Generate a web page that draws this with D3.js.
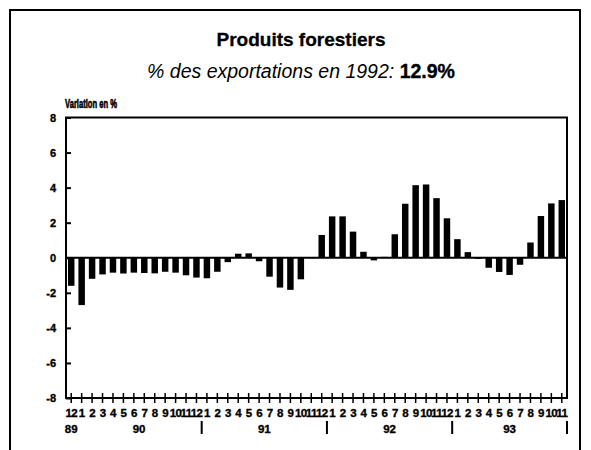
<!DOCTYPE html>
<html>
<head>
<meta charset="utf-8">
<script src="https://cdn.jsdelivr.net/npm/d3@7"></script>
<style>
  html, body { margin: 0; padding: 0; background: #fff; }
  svg { display: block; }
  text { font-family: "Liberation Sans", Arial, Helvetica, sans-serif; fill: #000; }
  .heavy { stroke: #000; stroke-width: 0.35px; }
</style>
</head>
<body>
<svg id="chart" width="591" height="450"></svg>
<script>
// ---- Data ----
const monthLabels = ["12",
  "1","2","3","4","5","6","7","8","9","10","11","12",
  "1","2","3","4","5","6","7","8","9","10","11","12",
  "1","2","3","4","5","6","7","8","9","10","11","12",
  "1","2","3","4","5","6","7","8","9","10","11"];
const yearLabels = ["89", "90", "91", "92", "93"];
const yearStart = [0, 1, 13, 25, 37];   // first bar index of each year group
const yearCount = [1, 12, 12, 12, 11];
const values = [-1.6,
  -2.7, -1.2, -0.95, -0.85, -0.9, -0.85, -0.87, -0.89, -0.8, -0.85, -1.0, -1.13,
  -1.17, -0.8, -0.25, 0.23, 0.25, -0.2, -1.08, -1.7, -1.83, -1.23, 0.03, 1.3,
  2.36, 2.36, 1.49, 0.34, -0.15, 0.05, 1.34, 3.08, 4.14, 4.18, 3.4, 2.25,
  1.06, 0.32, -0.03, -0.57, -0.81, -0.98, -0.4, 0.87, 2.38, 3.1, 3.29];
const yTicks = [-8, -6, -4, -2, 0, 2, 4, 6, 8];
const separatorBefore = [13, 25, 37, 48]; // band boundaries marking year groups

// ---- Layout ----
const svg = d3.select("#chart");
const plotL = 66, plotR = 567, plotT = 117.5, plotB = 398;

// outer frame
svg.append("rect")
  .attr("x", 10).attr("y", 10)
  .attr("width", 570).attr("height", 460)
  .attr("fill", "none").attr("stroke", "#000").attr("stroke-width", 2);

// titles
svg.append("text")
  .attr("x", 301).attr("y", 46)
  .attr("text-anchor", "middle")
  .attr("class", "heavy")
  .style("font-size", "19px").style("font-weight", "bold")
  .style("stroke-width", "0.3px")
  .text("Produits forestiers");

const sub = svg.append("text")
  .attr("x", 301).attr("y", 78)
  .attr("text-anchor", "middle")
  .style("font-size", "19.5px");
sub.append("tspan").style("font-style", "italic").text("% des exportations en 1992: ");
sub.append("tspan").style("font-weight", "bold").attr("class", "heavy").text("12.9%");

svg.append("text")
  .attr("x", 65).attr("y", 108)
  .attr("textLength", 52).attr("lengthAdjust", "spacingAndGlyphs")
  .attr("class", "heavy")
  .style("font-size", "12px").style("font-weight", "bold")
  .style("stroke-width", "0.6px")
  .text("Variation en %");

// ---- Scales ----
const x = d3.scaleBand()
  .domain(d3.range(values.length))
  .range([plotL, plotR])
  .paddingInner(0.38)
  .paddingOuter(0.19);
const cx = i => x(i) + x.bandwidth() / 2;

const y = d3.scaleLinear().domain([-8, 8]).range([plotB, plotT]);

// bars
svg.append("g").selectAll("rect")
  .data(values)
  .join("rect")
  .attr("x", (d, i) => x(i))
  .attr("width", x.bandwidth())
  .attr("y", d => y(Math.max(0, d)))
  .attr("height", d => Math.max(1, Math.abs(y(d) - y(0))))
  .attr("fill", "#000");

// zero line
svg.append("line")
  .attr("x1", plotL).attr("x2", plotR)
  .attr("y1", y(0)).attr("y2", y(0))
  .attr("stroke", "#000").attr("stroke-width", 2);

// plot box
svg.append("rect")
  .attr("x", plotL).attr("y", plotT)
  .attr("width", plotR - plotL).attr("height", plotB - plotT)
  .attr("fill", "none").attr("stroke", "#000").attr("stroke-width", 2);

// y axis
const yAxis = d3.axisLeft(y).tickValues(yTicks).tickFormat(d => String(d))
  .tickSizeInner(-5).tickSizeOuter(0).tickPadding(10);
const gy = svg.append("g").attr("transform", `translate(${plotL},0)`).call(yAxis);
gy.select(".domain").remove();
gy.selectAll(".tick line").attr("stroke", "#000").attr("stroke-width", 2);
gy.selectAll(".tick text")
  .attr("dy", "0.36em")
  .attr("class", "heavy")
  .style("font-size", "11px").style("font-weight", "bold")
  .style("font-family", "'Liberation Sans', Arial, sans-serif");

// x axis crosses
const gx = svg.append("g");
gx.selectAll("line.xt")
  .data(values)
  .join("line")
  .attr("class", "xt")
  .attr("x1", (d, i) => cx(i)).attr("x2", (d, i) => cx(i))
  .attr("y1", plotB - 5).attr("y2", plotB + 5)
  .attr("stroke", "#000").attr("stroke-width", 1.5);

// month labels
gx.selectAll("text.m")
  .data(monthLabels)
  .join("text")
  .attr("class", "m heavy")
  .attr("x", (d, i) => cx(i))
  .attr("y", 417)
  .attr("text-anchor", "middle")
  .style("font-size", "11.5px").style("font-weight", "bold")
  .style("letter-spacing", "-0.6px")
  .text(d => d);

// year labels
gx.selectAll("text.yr")
  .data(yearLabels)
  .join("text")
  .attr("class", "yr heavy")
  .attr("x", (d, i) => (cx(yearStart[i]) + cx(yearStart[i] + yearCount[i] - 1)) / 2)
  .attr("y", 433)
  .attr("text-anchor", "middle")
  .style("font-size", "11.5px").style("font-weight", "bold")
  .text(d => d);

// year separators
gx.selectAll("line.sep")
  .data(separatorBefore)
  .join("line")
  .attr("class", "sep")
  .attr("x1", d => d >= values.length ? plotR : (cx(d - 1) + cx(d)) / 2)
  .attr("x2", d => d >= values.length ? plotR : (cx(d - 1) + cx(d)) / 2)
  .attr("y1", 421).attr("y2", 434)
  .attr("stroke", "#000").attr("stroke-width", 2);
</script>
</body>
</html>
